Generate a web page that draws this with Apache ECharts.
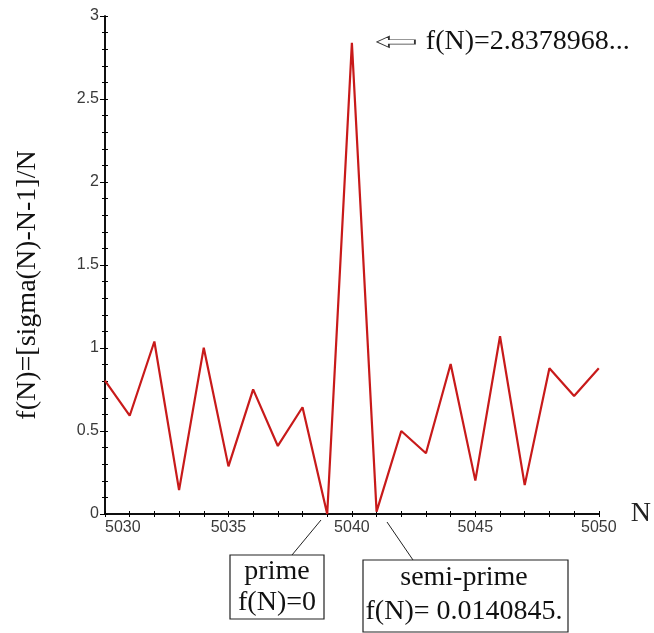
<!DOCTYPE html>
<html>
<head>
<meta charset="utf-8">
<script src="https://cdn.jsdelivr.net/npm/echarts@6/dist/echarts.min.js"></script>
<style>
  html, body { margin: 0; padding: 0; background: #fff; }
  #chart { width: 654px; height: 633px; }
</style>
</head>
<body>
<div id="chart"></div>
<script>
// N and f(N) = [sigma(N)-N-1]/N
const nValues = [5030, 5031, 5032, 5033, 5034, 5035, 5036, 5037, 5038, 5039, 5040,
                 5041, 5042, 5043, 5044, 5045, 5046, 5047, 5048, 5049, 5050];
const fValues = [0.803, 0.592, 1.039, 0.144, 1.002, 0.287, 0.751, 0.410, 0.643, 0, 2.838,
                 0.014, 0.500, 0.366, 0.904, 0.201, 1.071, 0.174, 0.878, 0.711, 0.878];
const peak = [5040, 2.8378968];

const serif = '"Liberation Serif", "DejaVu Serif", serif';
const sans = '"Liberation Sans", Arial, sans-serif';

const chart = echarts.init(document.getElementById('chart'));

const baseY = {
  type: 'value',
  min: 0,
  max: 3,
  interval: 0.5,
  axisLine: { show: true, lineStyle: { color: '#000', width: 1.5 } },
  splitLine: { show: false },
  minorTick: { show: true, splitNumber: 5, length: 3, lineStyle: { color: '#000' } },
  axisTick: { show: true, length: 5, lineStyle: { color: '#000' } }
};

const baseX = {
  type: 'value',
  min: 5030,
  max: 5050,
  interval: 5,
  axisLine: { show: true, onZero: false, lineStyle: { color: '#000', width: 1.5 } },
  splitLine: { show: false },
  minorTick: { show: true, splitNumber: 5, length: 3, lineStyle: { color: '#000' } },
  axisTick: { show: true, length: 3, lineStyle: { color: '#000' } }
};

const option = {
  backgroundColor: '#fff',
  animation: false,
  grid: { left: 105, right: 51, top: 16, bottom: 119 },
  xAxis: [
    Object.assign({}, baseX, {
      name: 'N',
      nameLocation: 'end',
      nameGap: 32,
      nameTextStyle: { fontFamily: serif, fontSize: 28, color: '#222', verticalAlign: 'middle' },
      axisLabel: {
        color: '#3a3a3a', fontFamily: sans, fontSize: 16, margin: 6,
        alignMinLabel: 'left',
        formatter: v => String(v)
      }
    }),
    Object.assign({}, baseX, {
      position: 'bottom',
      axisLabel: { show: false },
      axisTick: { show: true, inside: true, length: 3, lineStyle: { color: '#000' } },
      minorTick: { show: true, splitNumber: 5, length: 3, lineStyle: { color: '#000' } }
    })
  ],
  yAxis: [
    Object.assign({}, baseY, {
      axisLabel: { color: '#3a3a3a', fontFamily: sans, fontSize: 16, margin: 6 }
    }),
    Object.assign({}, baseY, {
      position: 'left',
      axisLabel: { show: false },
      axisTick: { show: true, inside: true, length: 3, lineStyle: { color: '#000' } }
    })
  ],
  series: [{
    type: 'line',
    data: nValues.map((n, i) => [n, fValues[i]]),
    symbol: 'none',
    lineStyle: { color: '#c81a1a', width: 2.2 },
    markPoint: {
      silent: true,
      data: [{
        coord: peak,
        symbol: 'path://M0,5 L12,0 L12,3 L38,3 L38,7 L12,7 L12,10 Z',
        symbolSize: [38, 11],
        symbolOffset: [44, -1],
        itemStyle: { color: '#fff', borderColor: '#333', borderWidth: 1 },
        label: {
          show: true,
          position: 'right',
          distance: 10,
          formatter: 'f(N)=2.8378968...',
          fontFamily: serif,
          fontSize: 28,
          color: '#111'
        }
      }]
    }
  }],
  graphic: [
    {
      type: 'text',
      x: 28, y: 285,
      rotation: Math.PI / 2,
      style: {
        text: 'f(N)=[sigma(N)-N-1]/N',
        font: '28px ' + serif,
        fill: '#111',
        textAlign: 'center',
        textVerticalAlign: 'middle'
      }
    },
    // prime box
    {
      type: 'line',
      shape: { x1: 292, y1: 555, x2: 321, y2: 520 },
      style: { stroke: '#222', lineWidth: 1 }
    },
    {
      type: 'rect',
      shape: { x: 230, y: 555, width: 94, height: 64 },
      style: { fill: '#fff', stroke: '#222', lineWidth: 1.2 }
    },
    {
      type: 'text',
      x: 277, y: 587,
      style: {
        text: 'prime\nf(N)=0',
        font: '28px ' + serif,
        lineHeight: 31,
        fill: '#111',
        textAlign: 'center',
        textVerticalAlign: 'middle'
      }
    },
    // semi-prime box
    {
      type: 'line',
      shape: { x1: 413, y1: 560, x2: 387, y2: 522 },
      style: { stroke: '#222', lineWidth: 1 }
    },
    {
      type: 'rect',
      shape: { x: 363, y: 560, width: 205, height: 72 },
      style: { fill: '#fff', stroke: '#222', lineWidth: 1.2 }
    },
    {
      type: 'text',
      x: 464, y: 595,
      style: {
        text: 'semi-prime\nf(N)= 0.0140845.',
        font: '28px ' + serif,
        lineHeight: 34,
        fill: '#111',
        textAlign: 'center',
        textVerticalAlign: 'middle'
      }
    }
  ]
};

chart.setOption(option);
</script>
</body>
</html>
